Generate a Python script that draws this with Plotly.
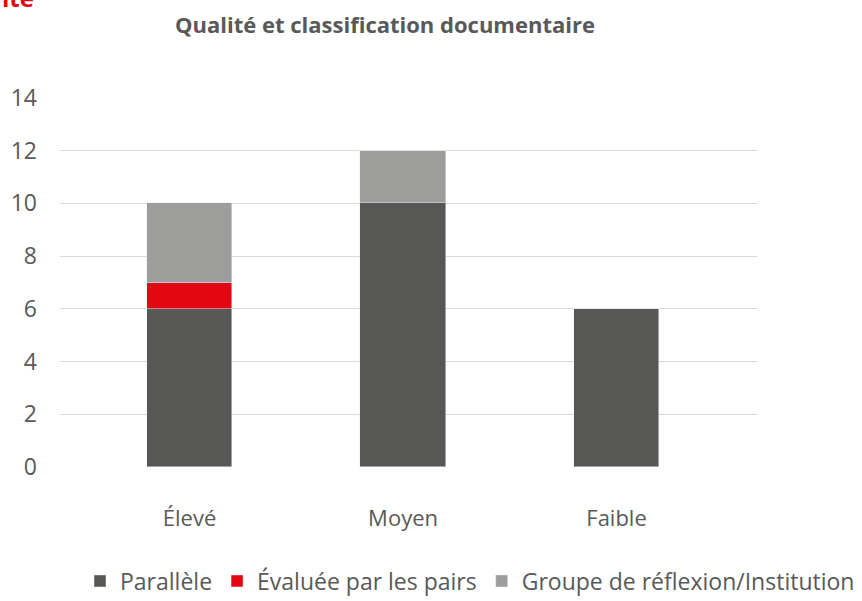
import plotly.graph_objects as go

categories = ["Élevé", "Moyen", "Faible"]
parallele = [6, 10, 6]
evaluee = [1, 0, 0]
groupe = [3, 2, 0]
y_ticks = [0, 2, 4, 6, 8, 10, 12, 14]

FONT = "Open Sans"
TXT = "#595959"

fig = go.Figure()
fig.add_trace(go.Bar(name="Parallèle", x=[0, 1, 2], y=parallele, marker_color="#575756", width=0.40))
fig.add_trace(go.Bar(name="Évaluée par les pairs", x=[0, 1, 2], y=evaluee, marker_color="#E30613", width=0.40))
fig.add_trace(go.Bar(name="Groupe de réflexion/Institution", x=[0, 1, 2], y=groupe, marker_color="#9D9D9C", width=0.40))

fig.update_layout(
    barmode="stack",
    width=862, height=601,
    margin=dict(l=60, r=105, t=98, b=134, autoexpand=False),
    paper_bgcolor="white", plot_bgcolor="white",
    font=dict(family=FONT, color=TXT, size=22),
    title=dict(text="<b>Qualité et classification documentaire</b>",
               x=385/862, xanchor="center", xref="container",
               y=1 - 25/601, yanchor="middle", yref="container",
               font=dict(family=FONT, size=22, color=TXT)),
    xaxis=dict(tickmode="array", tickvals=[0, 1, 2], ticktext=categories,
               range=[-0.607, 2.658], showgrid=False, zeroline=False,
               showline=False, ticks="", ticklabelstandoff=36, automargin=False,
               tickfont=dict(size=22, color=TXT)),
    yaxis=dict(range=[0, 14], tickvals=y_ticks, showgrid=True,
               gridcolor="#D9D9D9", gridwidth=1, zeroline=False,
               showline=False, ticks="", ticklabelstandoff=22, automargin=False,
               tickfont=dict(size=23, color=TXT)),
    legend=dict(orientation="h", xref="paper", yref="paper",
                x=(860 - 60) / 697, xanchor="right", y=-(581 - 467) / 369, yanchor="middle",
                font=dict(size=23, color=TXT), traceorder="normal",
                itemwidth=30, bgcolor="rgba(0,0,0,0)"),
    showlegend=True,
    bargap=0,
)

fig.add_annotation(text="<b>ité</b>", xref="paper", yref="paper",
                   x=-60/697, xanchor="left", y=1 + (98 - 16) / 369, yanchor="bottom",
                   showarrow=False, font=dict(family=FONT, size=24, color="#E30613"))

fig.write_html("out.html", config={"displayModeBar": False},
               post_script="document.body.style.margin='0';")
